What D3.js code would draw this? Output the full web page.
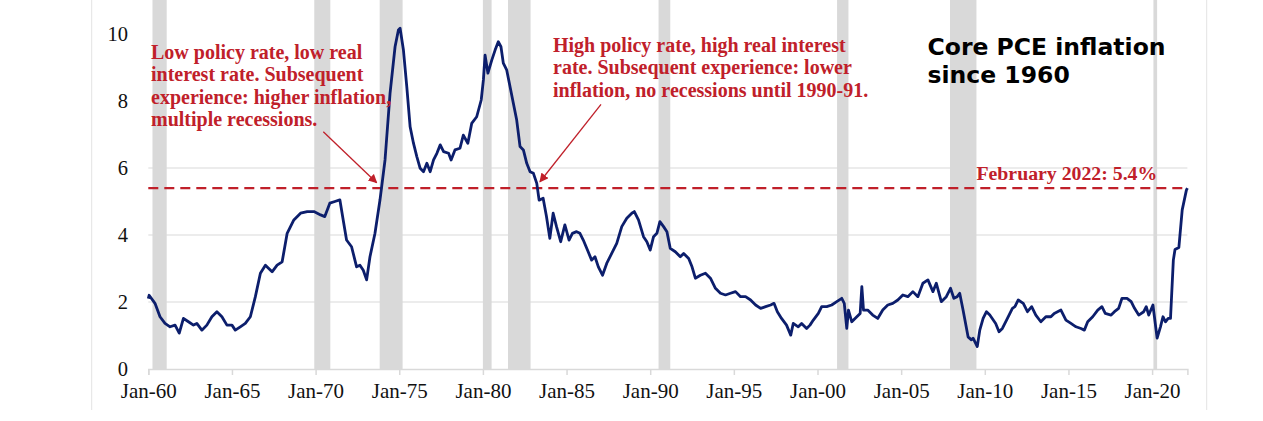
<!DOCTYPE html>
<html>
<head>
<meta charset="utf-8">
<script src="https://cdn.jsdelivr.net/npm/d3@7"></script>
<style>
  html, body { margin: 0; padding: 0; background: #fff; }
  svg { display: block; }
</style>
</head>
<body>
<svg id="chart" width="1263" height="421"></svg>
<script>
// ---------------- DATA ----------------
const years = [
  1960.00,1960.05,1960.40,1960.70,1961.00,1961.30,1961.60,1961.85,1962.10,1962.40,1962.70,1962.90,
  1963.20,1963.50,1963.80,1964.10,1964.40,1964.70,1965.00,1965.20,1965.50,1965.80,1966.10,1966.40,
  1966.70,1967.00,1967.40,1967.70,1968.00,1968.30,1968.70,1969.10,1969.50,1969.90,1970.30,1970.55,
  1970.85,1971.15,1971.45,1971.65,1971.85,1972.15,1972.45,1972.65,1972.85,1973.05,1973.25,1973.55,
  1973.85,1974.15,1974.45,1974.75,1974.95,1975.05,1975.25,1975.45,1975.65,1975.85,1976.05,1976.25,
  1976.45,1976.65,1976.85,1977.05,1977.25,1977.45,1977.65,1977.95,1978.10,1978.33,1978.63,1978.83,
  1979.10,1979.33,1979.63,1979.90,1980.03,1980.13,1980.30,1980.53,1980.73,1980.92,1981.08,1981.22,
  1981.42,1981.62,1981.82,1982.02,1982.22,1982.42,1982.62,1982.82,1983.02,1983.22,1983.36,1983.60,
  1983.80,1984.00,1984.20,1984.40,1984.65,1984.90,1985.15,1985.35,1985.60,1985.80,1986.00,1986.25,
  1986.50,1986.70,1986.90,1987.15,1987.40,1987.70,1988.00,1988.30,1988.60,1988.90,1989.05,1989.30,
  1989.60,1989.80,1990.00,1990.20,1990.40,1990.58,1990.80,1991.00,1991.20,1991.50,1991.80,1992.00,
  1992.30,1992.50,1992.70,1993.00,1993.30,1993.60,1993.90,1994.20,1994.50,1994.80,1995.10,1995.40,
  1995.70,1996.00,1996.30,1996.60,1996.90,1997.20,1997.40,1997.60,1997.85,1998.15,1998.40,1998.55,
  1998.85,1999.05,1999.35,1999.55,1999.75,2000.05,2000.25,2000.55,2000.85,2001.15,2001.45,2001.60,
  2001.75,2001.85,2002.05,2002.35,2002.55,2002.65,2002.75,2003.00,2003.30,2003.60,2003.90,2004.20,
  2004.50,2004.80,2005.10,2005.40,2005.70,2006.00,2006.30,2006.60,2006.90,2007.10,2007.40,2007.70,
  2007.95,2008.15,2008.35,2008.50,2008.70,2009.00,2009.20,2009.30,2009.55,2009.70,2009.90,2010.10,
  2010.30,2010.65,2010.85,2011.05,2011.30,2011.65,2011.80,2012.00,2012.30,2012.55,2012.80,2013.05,
  2013.35,2013.65,2013.95,2014.15,2014.35,2014.55,2014.85,2015.15,2015.45,2015.75,2015.95,2016.15,
  2016.45,2016.75,2017.00,2017.20,2017.55,2017.75,2018.00,2018.20,2018.50,2018.75,2018.95,2019.20,
  2019.50,2019.65,2019.80,2020.05,2020.30,2020.50,2020.65,2020.80,2020.96,2021.10,2021.27,2021.37,
  2021.60,2021.80,2022.05,2022.11
];
const coreInflation = [
  2.10,2.20,1.96,1.56,1.36,1.26,1.31,1.07,1.51,1.41,1.31,1.36,
  1.16,1.31,1.56,1.71,1.56,1.31,1.31,1.16,1.26,1.36,1.56,2.16,
  2.86,3.10,2.90,3.10,3.20,4.05,4.45,4.65,4.70,4.70,4.60,4.55,
  4.95,5.00,5.05,4.45,3.85,3.65,3.05,3.10,2.95,2.66,3.35,4.05,
  5.05,6.24,8.23,9.62,10.12,10.17,9.52,8.43,7.23,6.74,6.34,5.99,
  5.89,6.14,5.89,6.24,6.44,6.69,6.49,6.44,6.24,6.54,6.59,6.98,
  6.74,7.33,7.53,8.03,8.63,9.37,8.83,9.22,9.52,9.77,9.62,9.13,
  8.93,8.43,7.93,7.43,6.64,6.54,6.14,5.89,5.84,5.54,5.04,5.10,
  4.55,3.90,4.65,4.25,3.80,4.30,3.85,4.05,4.10,4.05,3.85,3.55,
  3.25,3.35,3.05,2.80,3.15,3.45,3.75,4.25,4.50,4.65,4.70,4.45,
  3.95,3.80,3.55,3.95,4.05,4.40,4.25,4.10,3.60,3.50,3.35,3.45,
  3.30,3.05,2.71,2.80,2.86,2.71,2.41,2.26,2.21,2.26,2.31,2.16,
  2.16,2.06,1.91,1.81,1.86,1.91,1.96,1.71,1.51,1.31,1.01,1.36,
  1.26,1.36,1.21,1.31,1.46,1.66,1.86,1.86,1.91,2.01,2.11,1.96,
  1.21,1.76,1.41,1.56,1.66,2.46,1.76,1.76,1.61,1.51,1.76,1.91,
  1.96,2.06,2.21,2.16,2.31,2.16,2.56,2.66,2.31,2.56,2.01,2.16,
  2.41,2.11,2.16,2.26,1.76,0.96,0.87,0.92,0.67,1.16,1.51,1.71,
  1.61,1.36,1.11,1.21,1.46,1.81,1.86,2.06,1.96,1.71,1.86,1.61,
  1.41,1.56,1.56,1.66,1.71,1.76,1.46,1.36,1.26,1.21,1.16,1.41,
  1.56,1.76,1.86,1.66,1.61,1.71,1.81,2.11,2.11,2.01,1.81,1.61,
  1.71,1.86,1.61,1.91,0.92,1.26,1.56,1.41,1.51,1.51,3.25,3.57,
  3.63,4.75,5.34,5.40
];
// NBER recessions [start, end] in decimal years
const recessionStart = [1960.25, 1969.92, 1973.83, 1980.00, 1981.50, 1990.50, 2001.17, 2007.92, 2020.08];
const recessionEnd   = [1961.10, 1970.88, 1975.20, 1980.52, 1982.85, 1991.20, 2001.85, 2009.50, 2020.30];
const xTickYears = [1960,1965,1970,1975,1980,1985,1990,1995,2000,2005,2010,2015,2020];
const yTickValues = [0,2,4,6,8,10];
const gridValues = [2,4,6];
const latestValue = 5.4;
const latestLabel = "February 2022: 5.4%";
const titleLines = ["Core PCE inflation", "since 1960"];
const note1Lines = ["Low policy rate, low real", "interest rate. Subsequent", "experience: higher inflation,", "multiple recessions."];
const note2Lines = ["High policy rate, high real interest", "rate. Subsequent experience: lower", "inflation, no recessions until 1990-91."];
// arrows: [fromYear, fromValue, toYear, toValue]
const arrow1 = [1970.46, 7.08, 1973.65, 5.56];
const arrow2 = [1987.06, 7.90, 1983.41, 5.59];

// ---------------- CHART ----------------
const svg = d3.select("#chart");
const plot = { left: 148.3, right: 1187.4, top: 0, bottom: 369 };

const x = d3.scaleLinear().domain([1960, 2022.11]).range([plot.left, plot.right]);
const y = d3.scaleLinear().domain([0, 11.015]).range([plot.bottom, plot.top]);

const RED = "#c0202a";
const NAVY = "#0c1e6c";
const GRID = "#d9d9d9";

// faint frame lines
svg.append("line").attr("x1", 91.7).attr("x2", 91.7).attr("y1", 0).attr("y2", 410)
  .attr("stroke", "#e3e3e3").attr("stroke-width", 1);
svg.append("line").attr("x1", 1206.7).attr("x2", 1206.7).attr("y1", 0).attr("y2", 410)
  .attr("stroke", "#e3e3e3").attr("stroke-width", 1);

// gridlines
svg.append("g").selectAll("line").data(gridValues).join("line")
  .attr("x1", plot.left).attr("x2", plot.right)
  .attr("y1", d => y(d)).attr("y2", d => y(d))
  .attr("stroke", GRID).attr("stroke-width", 1);

// recession bars
svg.append("g").selectAll("rect").data(recessionStart.map((s, i) => [s, recessionEnd[i]])).join("rect")
  .attr("x", d => x(d[0])).attr("width", d => x(d[1]) - x(d[0]))
  .attr("y", 0).attr("height", y(0))
  .attr("fill", "#d9d9d9");

const serif = "'Liberation Serif', 'Times New Roman', serif";

// x axis
const xAxis = d3.axisBottom(x)
  .tickValues(xTickYears)
  .tickSize(6)
  .tickFormat(d => "Jan-" + String(d % 100).padStart(2, "0"));
const gx = svg.append("g").attr("transform", `translate(0,${y(0)})`).call(xAxis);
gx.select(".domain").attr("stroke", GRID).attr("stroke-width", 1.5);
gx.selectAll(".tick line").attr("stroke", GRID).attr("stroke-width", 1.5);
gx.selectAll(".tick text")
  .attr("font-family", serif)
  .attr("font-size", 21).attr("fill", "#111").attr("y", 9).attr("dy", "0.95em");

// y axis labels (no line)
const yAxis = d3.axisLeft(y).tickValues(yTickValues).tickSize(0).tickPadding(0)
  .tickFormat(d3.format("d"));
const gy = svg.append("g").attr("transform", `translate(128,0)`).call(yAxis);
gy.select(".domain").remove();
gy.selectAll(".tick text")
  .attr("font-family", serif)
  .attr("font-size", 20.5).attr("fill", "#111");

// dashed latest-value line
svg.append("line")
  .attr("x1", x(1960)).attr("x2", x(2022.11))
  .attr("y1", y(latestValue)).attr("y2", y(latestValue))
  .attr("stroke", RED).attr("stroke-width", 2.2).attr("stroke-dasharray", "10,6");

// inflation line
const series = years.map((yr, i) => [yr, coreInflation[i]]);
svg.append("path").datum(series)
  .attr("fill", "none").attr("stroke", NAVY).attr("stroke-width", 2.8)
  .attr("stroke-linejoin", "round")
  .attr("d", d3.line().x(d => x(d[0])).y(d => y(d[1])));

// arrows
const defs = svg.append("defs");
defs.append("marker").attr("id", "arrowhead")
  .attr("viewBox", "0 0 10 10").attr("refX", 9).attr("refY", 5)
  .attr("markerWidth", 9).attr("markerHeight", 9).attr("markerUnits", "userSpaceOnUse")
  .attr("orient", "auto")
  .append("path").attr("d", "M0,0 L10,5 L0,10 z").attr("fill", RED);
[arrow1, arrow2].forEach(a => {
  svg.append("line")
    .attr("x1", x(a[0])).attr("y1", y(a[1]))
    .attr("x2", x(a[2])).attr("y2", y(a[3]))
    .attr("stroke", RED).attr("stroke-width", 1.3)
    .attr("marker-end", "url(#arrowhead)");
});

// annotation texts
function block(lines, x0, y0, lh, opts) {
  const t = svg.append("text")
    .attr("font-family", opts.family).attr("font-weight", "bold")
    .attr("font-size", opts.size).attr("fill", opts.fill);
  lines.forEach((l, i) => t.append("tspan").attr("x", x0).attr("y", y0 + i * lh).text(l));
  return t;
}
block(note1Lines, 151, 58.5, 22.6, { family: serif, size: 20, fill: RED });
block(note2Lines, 553, 51.5, 22.5, { family: serif, size: 20, fill: RED });
svg.append("text").attr("x", 976.5).attr("y", 179.5)
  .attr("font-family", serif).attr("font-weight", "bold").attr("font-size", 19.8)
  .attr("fill", RED).text(latestLabel);
block(titleLines, 927.5, 55, 28.4, { family: "'DejaVu Sans', Verdana, sans-serif", size: 23.5, fill: "#000" });
</script>
</body>
</html>
